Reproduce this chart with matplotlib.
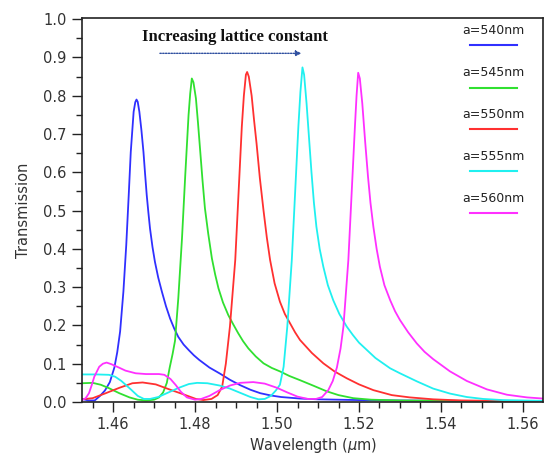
import matplotlib
matplotlib.use("Agg")
import matplotlib.pyplot as plt
from matplotlib.ticker import MultipleLocator

# ---------------- data ----------------
labels = ["a=540nm", "a=545nm", "a=550nm", "a=555nm", "a=560nm"]
colors = ["#3030ff", "#30e030", "#ff3030", "#20f0f0", "#ff30ff"]

wl_540 = [1.4524, 1.4540, 1.4555, 1.4568, 1.4580, 1.4592, 1.4603, 1.4610, 1.4617, 1.4625,
          1.4632, 1.4638, 1.4643, 1.4650, 1.4654, 1.4657, 1.4660, 1.4664, 1.4669, 1.4674,
          1.4678, 1.4682, 1.4686, 1.4690, 1.4696, 1.4702, 1.4710, 1.4719, 1.4729, 1.4739,
          1.4749, 1.4759, 1.4772, 1.4785, 1.4797, 1.4810, 1.4835, 1.4861,
          1.4885, 1.4910, 1.4935, 1.4959, 1.4985, 1.5010, 1.5056, 1.5100, 1.5200, 1.5300,
          1.5450, 1.5649]
tr_540 = [0.008, 0.004, 0.004, 0.016, 0.030, 0.052, 0.090, 0.130, 0.184, 0.288,
          0.410, 0.540, 0.653, 0.758, 0.783, 0.790, 0.784, 0.758, 0.710, 0.653,
          0.595, 0.540, 0.495, 0.453, 0.405, 0.366, 0.325, 0.288, 0.250, 0.218,
          0.192, 0.170, 0.150, 0.135, 0.122, 0.110, 0.090, 0.074,
          0.058, 0.044, 0.032, 0.023, 0.017, 0.013, 0.009, 0.007, 0.005, 0.004,
          0.003, 0.002]

wl_545 = [1.4524, 1.4550, 1.4570, 1.4590, 1.4615, 1.4640, 1.4660, 1.4680, 1.4700, 1.4712,
          1.4722, 1.4731, 1.4738, 1.4745, 1.4751, 1.4759, 1.4768, 1.4776, 1.4784, 1.4788,
          1.4792, 1.4796, 1.4802, 1.4807, 1.4812, 1.4818, 1.4824, 1.4832, 1.4841, 1.4849,
          1.4857, 1.4868, 1.4881, 1.4893, 1.4905, 1.4917,
          1.4930, 1.4948, 1.4967, 1.4987, 1.5007, 1.5030, 1.5056, 1.5090, 1.5121, 1.5150,
          1.5186, 1.5230, 1.5300, 1.5450, 1.5649]
tr_545 = [0.049, 0.050, 0.045, 0.036, 0.023, 0.012, 0.006, 0.004, 0.006, 0.012,
          0.025, 0.050, 0.090, 0.125, 0.160, 0.271, 0.427, 0.593, 0.749, 0.805,
          0.845, 0.835, 0.793, 0.730, 0.662, 0.580, 0.506, 0.440, 0.375, 0.333,
          0.297, 0.260, 0.227, 0.203, 0.180, 0.159,
          0.140, 0.119, 0.101, 0.089, 0.080, 0.068, 0.057, 0.042, 0.028, 0.018,
          0.010, 0.006, 0.004, 0.003, 0.002]

wl_550 = [1.4524, 1.4550, 1.4582, 1.4615, 1.4647, 1.4672, 1.4704, 1.4737, 1.4769, 1.4802,
          1.4820, 1.4840, 1.4855, 1.4866, 1.4875, 1.4885, 1.4898, 1.4906, 1.4914, 1.4919,
          1.4924, 1.4927, 1.4931, 1.4938, 1.4944, 1.4950, 1.4958, 1.4967, 1.4975, 1.4983,
          1.4994, 1.5007, 1.5019, 1.5032, 1.5044,
          1.5056, 1.5085, 1.5113, 1.5140, 1.5170, 1.5200, 1.5235, 1.5280, 1.5324, 1.5381,
          1.5450, 1.5649]
tr_550 = [0.007, 0.010, 0.023, 0.037, 0.049, 0.051, 0.046, 0.033, 0.021, 0.008,
          0.005, 0.008, 0.018, 0.040, 0.100, 0.197, 0.371, 0.545, 0.719, 0.800,
          0.855, 0.862, 0.850, 0.800, 0.735, 0.675, 0.585, 0.500, 0.430, 0.371,
          0.310, 0.262, 0.230, 0.205, 0.182,
          0.162, 0.128, 0.101, 0.080, 0.062, 0.046, 0.031, 0.018, 0.012, 0.007,
          0.004, 0.002]

wl_555 = [1.4524, 1.4560, 1.4590, 1.4605, 1.4620, 1.4640, 1.4660, 1.4675, 1.4690, 1.4710,
          1.4735, 1.4760, 1.4785, 1.4805, 1.4830, 1.4860, 1.4885, 1.4910, 1.4935, 1.4955,
          1.4970, 1.4985, 1.4997, 1.5007, 1.5016, 1.5025, 1.5036, 1.5044, 1.5052, 1.5057,
          1.5062, 1.5066, 1.5072, 1.5078, 1.5084, 1.5090, 1.5096, 1.5104, 1.5113, 1.5124,
          1.5137, 1.5152, 1.5170, 1.5185, 1.5200, 1.5240,
          1.5276, 1.5300, 1.5341, 1.5381, 1.5422, 1.5463, 1.5503, 1.5550, 1.5649]
tr_555 = [0.072, 0.072, 0.071, 0.066, 0.055, 0.036, 0.016, 0.008, 0.008, 0.013,
          0.025, 0.037, 0.047, 0.050, 0.049, 0.043, 0.035, 0.024, 0.013, 0.007,
          0.008, 0.016, 0.030, 0.045, 0.092, 0.197, 0.371, 0.545, 0.719, 0.810,
          0.874, 0.855, 0.780, 0.690, 0.600, 0.520, 0.458, 0.400, 0.353, 0.305,
          0.266, 0.230, 0.197, 0.175, 0.155, 0.115,
          0.088, 0.075, 0.054, 0.035, 0.022, 0.013, 0.008, 0.005, 0.003]

wl_560 = [1.4524, 1.4533, 1.4541, 1.4548, 1.4554, 1.4566, 1.4575, 1.4584, 1.4595, 1.4610,
          1.4630, 1.4655, 1.4680, 1.4712, 1.4725, 1.4740, 1.4753, 1.4765, 1.4780, 1.4800,
          1.4815, 1.4835, 1.4860, 1.4885, 1.4910, 1.4942, 1.4970, 1.5000, 1.5025, 1.5050,
          1.5075, 1.5095, 1.5110, 1.5125, 1.5136, 1.5146, 1.5155, 1.5162, 1.5174, 1.5182,
          1.5190, 1.5194, 1.5198, 1.5202, 1.5208, 1.5215, 1.5222, 1.5228, 1.5235, 1.5243,
          1.5251, 1.5262, 1.5276, 1.5288, 1.5300, 1.5320, 1.5341, 1.5360, 1.5381, 1.5422,
          1.5463, 1.5512, 1.5561, 1.5610, 1.5649]
tr_560 = [0.005, 0.010, 0.023, 0.045, 0.066, 0.092, 0.100, 0.103, 0.099, 0.092,
          0.082, 0.075, 0.073, 0.073, 0.071, 0.060, 0.044, 0.027, 0.012, 0.006,
          0.008, 0.016, 0.031, 0.043, 0.050, 0.052, 0.048, 0.037, 0.025, 0.014,
          0.008, 0.008, 0.013, 0.031, 0.055, 0.090, 0.140, 0.197, 0.371, 0.545,
          0.719, 0.800, 0.860, 0.845, 0.780, 0.680, 0.588, 0.520, 0.458, 0.400,
          0.353, 0.305, 0.266, 0.237, 0.214, 0.182, 0.153, 0.131, 0.112, 0.080,
          0.055, 0.033, 0.019, 0.012, 0.009]

wavelengths = [wl_540, wl_545, wl_550, wl_555, wl_560]
transmissions = [tr_540, tr_545, tr_550, tr_555, tr_560]

x_range = (1.4524, 1.5649)
y_range = (0.0, 1.003)
x_major = [1.46, 1.48, 1.50, 1.52, 1.54, 1.56]
x_major_labels = ["1.46", "1.48", "1.50", "1.52", "1.54", "1.56"]
y_major = [0.0, 0.1, 0.2, 0.3, 0.4, 0.5, 0.6, 0.7, 0.8, 0.9, 1.0]
y_major_labels = ["0.0", "0.1", "0.2", "0.3", "0.4", "0.5", "0.6", "0.7", "0.8", "0.9", "1.0"]
annotation_text = "Increasing lattice constant"

# ---------------- figure ----------------
W, H = 551, 462
fig = plt.figure(figsize=(W / 100, H / 100), dpi=100)
ax_l, ax_r, ax_t, ax_b = 82, 543, 18, 402
ax = fig.add_axes([ax_l / W, 1 - ax_b / H, (ax_r - ax_l) / W, (ax_b - ax_t) / H])

for wl, tr, c in zip(wavelengths, transmissions, colors):
    ax.plot(wl, tr, color=c, lw=1.3, solid_joinstyle="round")

ax.set_xlim(*x_range)
ax.set_ylim(*y_range)
ax.set_xticks(x_major)
ax.set_xticklabels(x_major_labels)
ax.set_yticks(y_major)
ax.set_yticklabels(y_major_labels)
ax.xaxis.set_minor_locator(MultipleLocator(0.005))
ax.yaxis.set_minor_locator(MultipleLocator(0.05))
ax.tick_params(axis="both", which="major", direction="out", length=7, width=1.0,
               labelsize=10.5, colors="#222222", labelcolor="#333333", pad=4)
ax.tick_params(axis="both", which="minor", direction="out", length=4, width=1.0,
               colors="#222222")
ax.tick_params(axis="x", which="major", pad=4)
for sp in ax.spines.values():
    sp.set_linewidth(1.2)
    sp.set_color("#222222")

ax.set_xlabel("Wavelength ($\\mu$m)", fontsize=10.5, color="#333333", labelpad=3)
ax.set_ylabel("Transmission", fontsize=10.5, color="#333333", labelpad=9)

# legend: label above a short line sample
leg_text_y = [0.967, 0.859, 0.749, 0.640, 0.530]
leg_line_y = [0.930, 0.819, 0.710, 0.601, 0.492]
for lab, c, ty, ly in zip(labels, colors, leg_text_y, leg_line_y):
    ax.text(0.8915, ty, lab, transform=ax.transAxes, ha="center", va="center",
            fontsize=9, color="#222222")
    ax.plot([0.842, 0.944], [ly, ly], transform=ax.transAxes, color=c, lw=1.5,
            clip_on=False)

# annotation
ax.text(0.332, 0.951, annotation_text, transform=ax.transAxes, ha="center", va="center",
        fontsize=12, fontweight="bold", family="Liberation Serif", color="#111111")
ax.annotate("", xy=(0.482, 0.908), xytext=(0.163, 0.908), xycoords="axes fraction",
            textcoords="axes fraction",
            arrowprops=dict(arrowstyle="-|>", color="#3050a0", lw=1.0, ls=(0, (1, 1)),
                            mutation_scale=8))

fig.savefig("out.png", dpi=100)
